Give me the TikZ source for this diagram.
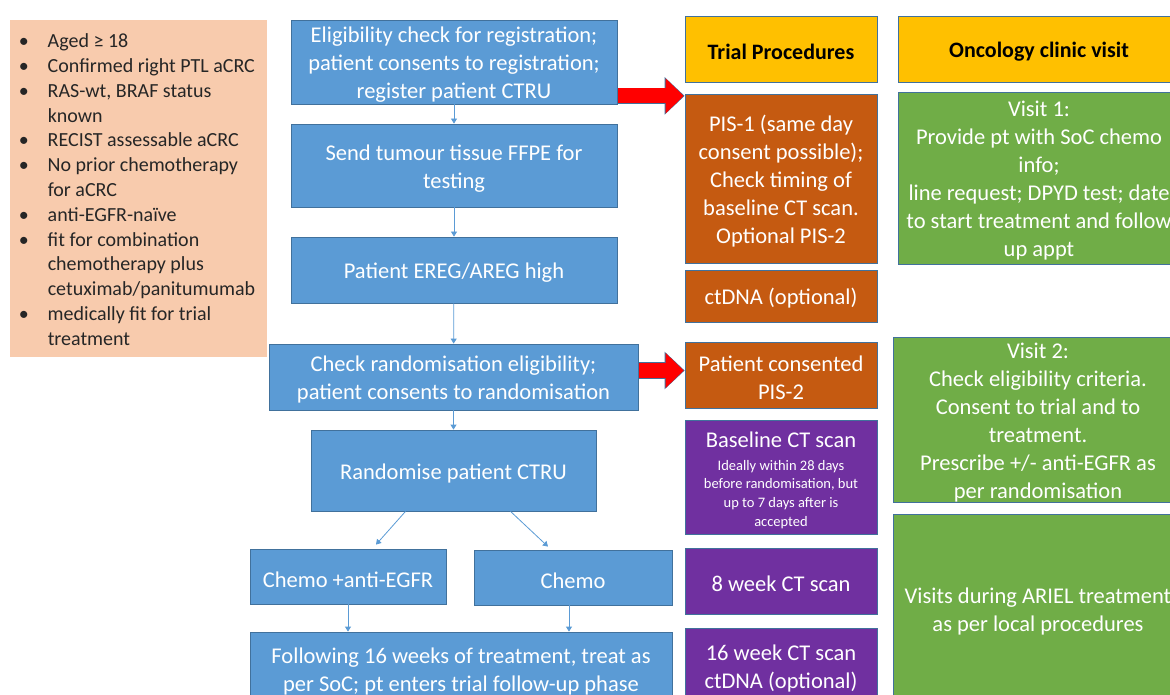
\documentclass[tikz,border=0pt]{standalone}
\usepackage{fontspec}
\setmainfont{Carlito}
\usetikzlibrary{arrows.meta,calc}
\definecolor{flowblue}{HTML}{5B9BD5}
\definecolor{edgeblue}{HTML}{41719C}
\definecolor{critpeach}{HTML}{F8CBAD}
\definecolor{headyellow}{HTML}{FFC000}
\definecolor{procorange}{HTML}{C55A11}
\definecolor{scanpurple}{HTML}{7030A0}
\definecolor{visitgreen}{HTML}{70AD47}
\newcommand{\fl}{\rule{0pt}{21.5pt}}
\begin{document}
\begin{tikzpicture}[x=1pt,y=-1pt]
    \tikzstyle{anybox}=[rectangle, draw=edgeblue, line width=0.8pt, inner sep=0pt, align=center,
                        text=white, font=\fontsize{22.5}{28}\selectfont,
                        execute at begin node={\fl}]
    \tikzstyle{critbox}=[rectangle, fill=critpeach, inner sep=0pt, text=black!85,
                         font=\fontsize{20}{24.8}\selectfont, minimum width=257pt, minimum height=337pt]
    \tikzstyle{flowbox}=[anybox, fill=flowblue]
    \tikzstyle{headbox}=[anybox, fill=headyellow, text=black, font=\fontsize{22}{28}\selectfont\bfseries, minimum height=66pt]
    \tikzstyle{procbox}=[anybox, fill=procorange, minimum width=192pt]
    \tikzstyle{scanbox}=[anybox, fill=scanpurple, minimum width=192pt]
    \tikzstyle{visitbox}=[anybox, fill=visitgreen]
    \tikzstyle{flow}=[draw=flowblue, line width=0.8pt, -{Triangle[length=5pt,width=6pt]}]
    \tikzstyle{bigedge}=[draw=edgeblue, line width=16.6pt, -{Triangle[length=20pt,width=37.6pt,line width=0pt]}]
    \tikzstyle{bigarrow}=[draw=red, line width=15pt, shorten >=1pt, -{Triangle[length=18pt,width=35pt,line width=0pt]}]

    \useasboundingbox (0,0) rectangle (1170,695);
    \clip (0,0) rectangle (1170,695);

    \node[critbox] (crit) at (138.5,188.5) {%
        \begin{tabular}{@{}p{29pt}@{}l@{}}
        \textbullet & \rule{0pt}{23.4pt}Aged ≥ 18\\
        \textbullet & Confirmed right PTL aCRC\\
        \textbullet & RAS-wt, BRAF status\\
                    & known\\
        \textbullet & RECIST assessable aCRC\\
        \textbullet & No prior chemotherapy\\
                    & for aCRC\\
        \textbullet & anti-EGFR-naïve\\
        \textbullet & fit for combination\\
                    & chemotherapy plus\\
                    & cetuximab/panitumumab\\
        \textbullet & medically fit for trial\\
                    & treatment
        \end{tabular}\hspace*{3pt}};

    \node[flowbox, minimum width=326pt, minimum height=84pt] (reg) at (454,62)
        {\fl Eligibility check for registration;\\patient consents to registration;\\register patient CTRU};
    \node[flowbox, minimum width=326pt, minimum height=83pt] (ffpe) at (454,165.5)
        {\fl Send tumour tissue FFPE for\\testing};
    \node[flowbox, minimum width=326pt, minimum height=66pt] (ereg) at (454,270) {Patient EREG/AREG high};
    \node[flowbox, minimum width=369pt, minimum height=66pt] (chk) at (453.5,377)
        {\fl Check randomisation eligibility;\\patient consents to randomisation};
    \node[flowbox, minimum width=285pt, minimum height=81pt] (rnd) at (453.5,470.5) {Randomise patient CTRU};
    \node[flowbox, minimum width=196pt, minimum height=55pt] (arm1) at (348,576.5) {Chemo +anti-EGFR};
    \node[flowbox, minimum width=198pt, minimum height=55pt] (arm2) at (573,577.5) {Chemo};
    \node[flowbox, minimum width=422pt, minimum height=74pt] (fup) at (461,669)
        {\fl Following 16 weeks of treatment, treat as\\per SoC; pt enters trial follow-up phase};

    \node[headbox, minimum width=192pt] (trial) at (781,49) {Trial Procedures};
    \node[headbox, minimum width=282pt] (clinic) at (1039,49) {Oncology clinic visit};

    \node[procbox, minimum height=169pt] (pis1) at (781,178.5)
        {\fl PIS-1 (same day\\consent possible);\\Check timing of\\baseline CT scan.\\Optional PIS-2};
    \node[procbox, minimum height=52pt] (ctdna) at (781,296) {ctDNA (optional)};
    \node[procbox, minimum height=66pt] (pis2) at (781,375) {\fl Patient consented\\PIS-2};

    \node[scanbox, minimum height=114pt] (base) at (781,477)
        {\fl Baseline CT scan\\[-5pt]\parbox[t]{185pt}{\centering\fontsize{14.5}{18.7}\selectfont
         Ideally within 28 days\\before randomisation, but\\up to 7 days after is\\accepted}};
    \node[scanbox, minimum height=66pt] (wk8) at (781,581) {8 week CT scan};
    \node[scanbox, minimum height=76pt] (wk16) at (781,666) {\fl 16 week CT scan\\ctDNA (optional)};

    \node[visitbox, minimum width=282pt, minimum height=172pt] (visit1) at (1039,178)
        {\fl Visit 1:\\Provide pt with SoC chemo\\info;\\line request; DPYD test; date\\to start treatment and follow\\up appt};
    \node[visitbox, minimum width=290pt, minimum height=164pt] (visit2) at (1038,420)
        {\fl Visit 2:\\Check eligibility criteria.\\Consent to trial and to\\treatment.\\Prescribe +/- anti-EGFR as\\per randomisation};
    \node[visitbox, minimum width=290pt, minimum height=190pt] (visits) at (1038,609)
        {\fl Visits during ARIEL treatment\\as per local procedures};

    \draw[flow] (reg) -- (ffpe);
    \draw[flow] (ffpe) -- (ereg);
    \draw[flow] (ereg) -- (chk);
    \draw[flow] (chk) -- (rnd);
    \draw[flow] ($(rnd.south)+(-48,0)$) -- ($(arm1.north)+(28,-4)$);
    \draw[flow] ($(rnd.south)+(57,0)$) -- ($(arm2.north)+(-25,-3)$);
    \coordinate (a1) at (arm1.south);
    \coordinate (a2) at ($(arm2.south)+(-4,0)$);
    \draw[flow] (a1) -- (a1 |- fup.north);
    \draw[flow] (a2) -- (a2 |- fup.north);

    \coordinate (ra) at ($(reg.south east)+(1,-8.5)$);
    \coordinate (rb) at ($(chk.east)+(1,-6.5)$);
    \draw[bigedge] (ra) -- (ra -| pis1.west);
    \draw[bigarrow] (ra) -- (ra -| pis1.west);
    \draw[bigedge] (rb) -- (rb -| pis2.west);
    \draw[bigarrow] (rb) -- (rb -| pis2.west);

\end{tikzpicture}
\end{document}
